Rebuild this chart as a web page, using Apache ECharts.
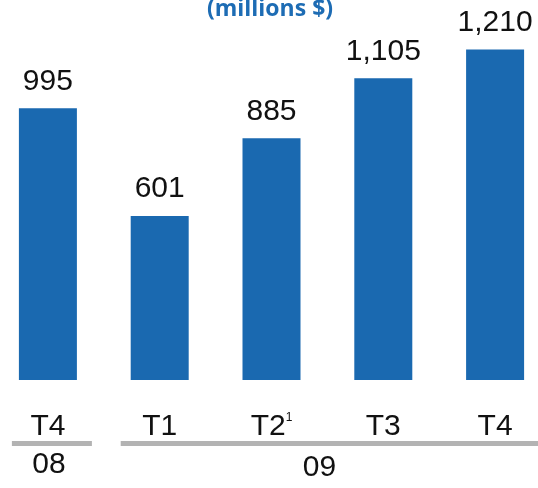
<!DOCTYPE html>
<html><head><meta charset="utf-8">
<script src="https://cdn.jsdelivr.net/npm/echarts@6/dist/echarts.min.js"></script>
<style>html,body{margin:0;padding:0;background:#fff}#c{width:538px;height:488px}</style>
</head><body><div id="c"></div>
<script>
const categories = ['T4', 'T1', 'T2', 'T3', 'T4'];
const values = [995, 601, 885, 1105, 1210];
const superscripts = ['', '', '1', '', ''];
const years = ['08', '09'];
const yearGroups = [[0, 0], [1, 4]];
const titleText = '(millions $)';

const chart = echarts.init(document.getElementById('c'));
const blue = '#1a69b0';
chart.setOption({
  animation: false,
  title: {
    text: titleText, left: 265, top: -7, textAlign: 'center',
    textStyle: { fontFamily: 'Open Sans', fontWeight: 'bold', fontSize: 23, color: '#1d6cb4' }
  },
  grid: { left: -8, right: -13, top: 25, bottom: 108, containLabel: false, outerBoundsMode: 'none' },
  xAxis: {
    type: 'category', data: categories,
    axisLine: { show: false }, axisTick: { show: false },
    axisLabel: {
      interval: 0, hideOverlap: false,
      margin: 32, color: '#111', fontFamily: 'Liberation Sans', fontSize: 30,
      formatter: (v, i) => superscripts[i] ? v + '{sup|' + superscripts[i] + '}' : v,
      rich: { sup: { fontSize: 12, fontFamily: 'Liberation Sans', color: '#111', verticalAlign: 'top', padding: [0, 0, 16, 0] } }
    }
  },
  yAxis: { type: 'value', min: 0, max: 1300, show: false, splitLine: { show: false } },
  series: [{
    type: 'bar', data: values, barWidth: 58,
    itemStyle: { color: blue },
    label: {
      show: true, position: 'top', distance: 12, color: '#111',
      fontFamily: 'Liberation Sans', fontSize: 30,
      formatter: p => p.value.toLocaleString('en-US')
    }
  }]
});

const gEls = [];
const lineY = 443.5;
yearGroups.forEach((g, k) => {
  const x0 = chart.convertToPixel({ xAxisIndex: 0 }, g[0]);
  const x1 = chart.convertToPixel({ xAxisIndex: 0 }, g[1]);
  const left = k === 0 ? x0 - 36 : x0 - 39;
  const right = k === 0 ? x1 + 44 : 538;
  gEls.push({ type: 'line', shape: { x1: left, y1: lineY, x2: right, y2: lineY },
    style: { stroke: '#b3b3b3', lineWidth: 5 } });
  gEls.push({ type: 'text', x: k === 0 ? (x0 + 1) : (x0 + x1) / 2 - 8, y: k === 0 ? 465 : 468,
    style: { text: years[k], fill: '#111', font: '30px "Liberation Sans"', align: 'center', verticalAlign: 'middle' } });
});
chart.setOption({ graphic: gEls });
</script></body></html>
